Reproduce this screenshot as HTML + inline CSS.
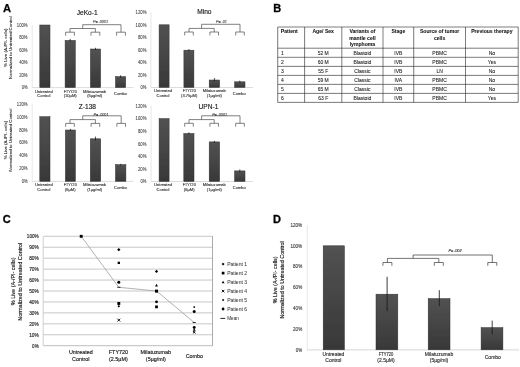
<!DOCTYPE html>
<html><head><meta charset="utf-8"><title>Figure</title>
<style>
html,body{margin:0;padding:0;background:#fff;}
svg{display:block;}
text{font-family:"Liberation Sans", sans-serif;}
</style></head>
<body>
<svg width="520" height="367" viewBox="0 0 520 367">
<defs>
<linearGradient id="bg" x1="0" y1="0" x2="0" y2="1" gradientUnits="objectBoundingBox"><stop offset="0" stop-color="#525252"/><stop offset="1" stop-color="#383838"/></linearGradient>
<filter id="bl" x="0" y="0" width="520" height="367" filterUnits="userSpaceOnUse"><feGaussianBlur stdDeviation="0.3"/></filter>
</defs>
<rect width="520" height="367" fill="#fff"/>
<g fill="#222" filter="url(#bl)">
<text x="27.60" y="89.40" font-size="4.7" text-anchor="end" fill="#444" textLength="5.9" lengthAdjust="spacingAndGlyphs" stroke="#444" stroke-width="0.08">0%</text>
<text x="27.60" y="76.90" font-size="4.7" text-anchor="end" fill="#444" textLength="8.4" lengthAdjust="spacingAndGlyphs" stroke="#444" stroke-width="0.08">20%</text>
<text x="27.60" y="64.40" font-size="4.7" text-anchor="end" fill="#444" textLength="8.4" lengthAdjust="spacingAndGlyphs" stroke="#444" stroke-width="0.08">40%</text>
<text x="27.60" y="51.90" font-size="4.7" text-anchor="end" fill="#444" textLength="8.4" lengthAdjust="spacingAndGlyphs" stroke="#444" stroke-width="0.08">60%</text>
<text x="27.60" y="39.40" font-size="4.7" text-anchor="end" fill="#444" textLength="8.4" lengthAdjust="spacingAndGlyphs" stroke="#444" stroke-width="0.08">80%</text>
<text x="27.60" y="26.90" font-size="4.7" text-anchor="end" fill="#444" textLength="10.8" lengthAdjust="spacingAndGlyphs" stroke="#444" stroke-width="0.08">100%</text>
<line x1="32.20" y1="25.00" x2="32.20" y2="87.50" stroke="#cfcfcf" stroke-width="0.5"/>
<line x1="32.20" y1="87.60" x2="133.50" y2="87.60" stroke="#c4c4c4" stroke-width="0.6"/>
<text x="87.20" y="14.80" font-size="6.6" text-anchor="middle" stroke="#222" stroke-width="0.15">JeKo-1</text>
<rect x="39.80" y="25.00" width="10.20" height="62.50" fill="url(#bg)" stroke="#2e2e2e" stroke-width="0.5"/>
<rect x="65.10" y="40.40" width="10.20" height="47.10" fill="url(#bg)" stroke="#2e2e2e" stroke-width="0.5"/>
<line x1="70.20" y1="38.90" x2="70.20" y2="41.60" stroke="#1a1a1a" stroke-width="0.75"/>
<rect x="90.40" y="49.00" width="10.20" height="38.50" fill="url(#bg)" stroke="#2e2e2e" stroke-width="0.5"/>
<line x1="95.50" y1="47.80" x2="95.50" y2="50.00" stroke="#1a1a1a" stroke-width="0.75"/>
<rect x="115.50" y="76.60" width="10.20" height="10.90" fill="url(#bg)" stroke="#2e2e2e" stroke-width="0.5"/>
<line x1="120.60" y1="75.30" x2="120.60" y2="77.80" stroke="#1a1a1a" stroke-width="0.75"/>
<text x="43.80" y="92.55" font-size="4.05" text-anchor="middle" fill="#3a3a3a" stroke="#3a3a3a" stroke-width="0.14">Untreated</text>
<text x="43.80" y="97.45" font-size="4.05" text-anchor="middle" fill="#3a3a3a" stroke="#3a3a3a" stroke-width="0.14">Control</text>
<text x="70.20" y="92.55" font-size="4.05" text-anchor="middle" fill="#3a3a3a" textLength="13.0" lengthAdjust="spacingAndGlyphs" stroke="#3a3a3a" stroke-width="0.14">FTY720</text>
<text x="70.20" y="97.45" font-size="4.05" text-anchor="middle" fill="#3a3a3a" stroke="#3a3a3a" stroke-width="0.14">(10µM)</text>
<text x="94.60" y="92.55" font-size="4.05" text-anchor="middle" fill="#3a3a3a" stroke="#3a3a3a" stroke-width="0.14">Milatuzumab</text>
<text x="94.60" y="97.45" font-size="4.05" text-anchor="middle" fill="#3a3a3a" stroke="#3a3a3a" stroke-width="0.14">(5µg/ml)</text>
<text x="120.50" y="95.20" font-size="4.05" text-anchor="middle" fill="#3a3a3a" stroke="#3a3a3a" stroke-width="0.14">Combo</text>
<path d="M82.70 28.50V24.70H121.00V32.20M70.00 32.20V28.50H95.40V32.20M65.60 35.70V32.20H74.40V35.70M91.00 35.70V32.20H99.80V35.70M116.60 35.70V32.20H125.40V35.70" stroke="#4a4a4a" stroke-width="0.7" fill="none"/>
<text x="100.50" y="23.20" font-size="3.7" text-anchor="middle" fill="#333" stroke="#333" stroke-width="0.08" font-style="italic">P= .0001</text>
<text x="146.40" y="89.30" font-size="4.7" text-anchor="end" fill="#444" textLength="5.9" lengthAdjust="spacingAndGlyphs" stroke="#444" stroke-width="0.08">0%</text>
<text x="146.40" y="76.78" font-size="4.7" text-anchor="end" fill="#444" textLength="8.4" lengthAdjust="spacingAndGlyphs" stroke="#444" stroke-width="0.08">20%</text>
<text x="146.40" y="64.26" font-size="4.7" text-anchor="end" fill="#444" textLength="8.4" lengthAdjust="spacingAndGlyphs" stroke="#444" stroke-width="0.08">40%</text>
<text x="146.40" y="51.74" font-size="4.7" text-anchor="end" fill="#444" textLength="8.4" lengthAdjust="spacingAndGlyphs" stroke="#444" stroke-width="0.08">60%</text>
<text x="146.40" y="39.22" font-size="4.7" text-anchor="end" fill="#444" textLength="8.4" lengthAdjust="spacingAndGlyphs" stroke="#444" stroke-width="0.08">80%</text>
<text x="146.40" y="26.70" font-size="4.7" text-anchor="end" fill="#444" textLength="10.8" lengthAdjust="spacingAndGlyphs" stroke="#444" stroke-width="0.08">100%</text>
<text x="146.40" y="14.18" font-size="4.7" text-anchor="end" fill="#444" textLength="10.8" lengthAdjust="spacingAndGlyphs" stroke="#444" stroke-width="0.08">120%</text>
<line x1="150.90" y1="12.28" x2="150.90" y2="87.40" stroke="#cfcfcf" stroke-width="0.5"/>
<line x1="150.90" y1="87.50" x2="253.00" y2="87.50" stroke="#c4c4c4" stroke-width="0.6"/>
<text x="204.40" y="14.40" font-size="6.6" text-anchor="middle" stroke="#222" stroke-width="0.15">Mino</text>
<rect x="159.10" y="24.80" width="10.00" height="62.60" fill="url(#bg)" stroke="#2e2e2e" stroke-width="0.5"/>
<rect x="183.90" y="50.20" width="10.00" height="37.20" fill="url(#bg)" stroke="#2e2e2e" stroke-width="0.5"/>
<line x1="188.90" y1="49.00" x2="188.90" y2="51.20" stroke="#1a1a1a" stroke-width="0.75"/>
<rect x="209.20" y="80.00" width="10.40" height="7.40" fill="url(#bg)" stroke="#2e2e2e" stroke-width="0.5"/>
<line x1="214.40" y1="78.00" x2="214.40" y2="81.50" stroke="#1a1a1a" stroke-width="0.75"/>
<rect x="234.60" y="81.80" width="10.40" height="5.60" fill="url(#bg)" stroke="#2e2e2e" stroke-width="0.5"/>
<line x1="239.80" y1="80.70" x2="239.80" y2="82.80" stroke="#1a1a1a" stroke-width="0.75"/>
<text x="163.00" y="92.45" font-size="4.05" text-anchor="middle" fill="#3a3a3a" stroke="#3a3a3a" stroke-width="0.14">Untreated</text>
<text x="163.00" y="97.35" font-size="4.05" text-anchor="middle" fill="#3a3a3a" stroke="#3a3a3a" stroke-width="0.14">Control</text>
<text x="189.20" y="92.45" font-size="4.05" text-anchor="middle" fill="#3a3a3a" textLength="13.0" lengthAdjust="spacingAndGlyphs" stroke="#3a3a3a" stroke-width="0.14">FTY720</text>
<text x="189.20" y="97.35" font-size="4.05" text-anchor="middle" fill="#3a3a3a" stroke="#3a3a3a" stroke-width="0.14">(3.75µM)</text>
<text x="214.30" y="92.45" font-size="4.05" text-anchor="middle" fill="#3a3a3a" stroke="#3a3a3a" stroke-width="0.14">Milatuzumab</text>
<text x="214.30" y="97.35" font-size="4.05" text-anchor="middle" fill="#3a3a3a" stroke="#3a3a3a" stroke-width="0.14">(1µg/ml)</text>
<text x="239.30" y="95.10" font-size="4.05" text-anchor="middle" fill="#3a3a3a" stroke="#3a3a3a" stroke-width="0.14">Combo</text>
<path d="M201.60 28.40V24.30H240.00V32.00M189.00 32.00V28.40H214.20V32.00M184.70 35.40V32.00H193.30V35.40M209.90 35.40V32.00H218.50V35.40M235.70 35.40V32.00H244.30V35.40" stroke="#4a4a4a" stroke-width="0.7" fill="none"/>
<text x="221.50" y="22.70" font-size="3.7" text-anchor="middle" fill="#333" stroke="#333" stroke-width="0.08" font-style="italic">P= .01</text>
<text x="27.60" y="183.20" font-size="4.7" text-anchor="end" fill="#444" textLength="5.9" lengthAdjust="spacingAndGlyphs" stroke="#444" stroke-width="0.08">0%</text>
<text x="27.60" y="170.28" font-size="4.7" text-anchor="end" fill="#444" textLength="8.4" lengthAdjust="spacingAndGlyphs" stroke="#444" stroke-width="0.08">20%</text>
<text x="27.60" y="157.36" font-size="4.7" text-anchor="end" fill="#444" textLength="8.4" lengthAdjust="spacingAndGlyphs" stroke="#444" stroke-width="0.08">40%</text>
<text x="27.60" y="144.44" font-size="4.7" text-anchor="end" fill="#444" textLength="8.4" lengthAdjust="spacingAndGlyphs" stroke="#444" stroke-width="0.08">60%</text>
<text x="27.60" y="131.52" font-size="4.7" text-anchor="end" fill="#444" textLength="8.4" lengthAdjust="spacingAndGlyphs" stroke="#444" stroke-width="0.08">80%</text>
<text x="27.60" y="118.60" font-size="4.7" text-anchor="end" fill="#444" textLength="10.8" lengthAdjust="spacingAndGlyphs" stroke="#444" stroke-width="0.08">100%</text>
<text x="27.60" y="105.68" font-size="4.7" text-anchor="end" fill="#444" textLength="10.8" lengthAdjust="spacingAndGlyphs" stroke="#444" stroke-width="0.08">120%</text>
<line x1="32.20" y1="103.78" x2="32.20" y2="181.30" stroke="#cfcfcf" stroke-width="0.5"/>
<line x1="32.20" y1="181.40" x2="133.50" y2="181.40" stroke="#c4c4c4" stroke-width="0.6"/>
<text x="87.40" y="108.50" font-size="6.6" text-anchor="middle" stroke="#222" stroke-width="0.15">Z-138</text>
<rect x="39.80" y="116.70" width="10.20" height="64.60" fill="url(#bg)" stroke="#2e2e2e" stroke-width="0.5"/>
<rect x="65.40" y="130.00" width="10.00" height="51.30" fill="url(#bg)" stroke="#2e2e2e" stroke-width="0.5"/>
<line x1="70.40" y1="128.90" x2="70.40" y2="131.00" stroke="#1a1a1a" stroke-width="0.75"/>
<rect x="90.30" y="138.80" width="10.40" height="42.50" fill="url(#bg)" stroke="#2e2e2e" stroke-width="0.5"/>
<line x1="95.50" y1="136.60" x2="95.50" y2="140.60" stroke="#1a1a1a" stroke-width="0.75"/>
<rect x="115.50" y="164.60" width="10.40" height="16.70" fill="url(#bg)" stroke="#2e2e2e" stroke-width="0.5"/>
<line x1="120.70" y1="163.80" x2="120.70" y2="165.60" stroke="#1a1a1a" stroke-width="0.75"/>
<text x="43.80" y="186.35" font-size="4.05" text-anchor="middle" fill="#3a3a3a" stroke="#3a3a3a" stroke-width="0.14">Untreated</text>
<text x="43.80" y="191.25" font-size="4.05" text-anchor="middle" fill="#3a3a3a" stroke="#3a3a3a" stroke-width="0.14">Control</text>
<text x="70.20" y="186.35" font-size="4.05" text-anchor="middle" fill="#3a3a3a" textLength="13.0" lengthAdjust="spacingAndGlyphs" stroke="#3a3a3a" stroke-width="0.14">FTY720</text>
<text x="70.20" y="191.25" font-size="4.05" text-anchor="middle" fill="#3a3a3a" stroke="#3a3a3a" stroke-width="0.14">(6µM)</text>
<text x="94.60" y="186.35" font-size="4.05" text-anchor="middle" fill="#3a3a3a" stroke="#3a3a3a" stroke-width="0.14">Milatuzumab</text>
<text x="94.60" y="191.25" font-size="4.05" text-anchor="middle" fill="#3a3a3a" stroke="#3a3a3a" stroke-width="0.14">(1µg/ml)</text>
<text x="120.50" y="189.00" font-size="4.05" text-anchor="middle" fill="#3a3a3a" stroke="#3a3a3a" stroke-width="0.14">Combo</text>
<path d="M82.70 119.60V115.80H121.20V123.40M70.00 123.40V119.60H95.40V123.40M65.70 126.80V123.40H74.30V126.80M91.10 126.80V123.40H99.70V126.80M116.90 126.80V123.40H125.50V126.80" stroke="#4a4a4a" stroke-width="0.7" fill="none"/>
<text x="101.00" y="115.90" font-size="3.7" text-anchor="middle" fill="#333" stroke="#333" stroke-width="0.08" font-style="italic">P= .0001</text>
<text x="146.40" y="183.30" font-size="4.7" text-anchor="end" fill="#444" textLength="5.9" lengthAdjust="spacingAndGlyphs" stroke="#444" stroke-width="0.08">0%</text>
<text x="146.40" y="170.72" font-size="4.7" text-anchor="end" fill="#444" textLength="8.4" lengthAdjust="spacingAndGlyphs" stroke="#444" stroke-width="0.08">20%</text>
<text x="146.40" y="158.14" font-size="4.7" text-anchor="end" fill="#444" textLength="8.4" lengthAdjust="spacingAndGlyphs" stroke="#444" stroke-width="0.08">40%</text>
<text x="146.40" y="145.56" font-size="4.7" text-anchor="end" fill="#444" textLength="8.4" lengthAdjust="spacingAndGlyphs" stroke="#444" stroke-width="0.08">60%</text>
<text x="146.40" y="132.98" font-size="4.7" text-anchor="end" fill="#444" textLength="8.4" lengthAdjust="spacingAndGlyphs" stroke="#444" stroke-width="0.08">80%</text>
<text x="146.40" y="120.40" font-size="4.7" text-anchor="end" fill="#444" textLength="10.8" lengthAdjust="spacingAndGlyphs" stroke="#444" stroke-width="0.08">100%</text>
<text x="146.40" y="107.82" font-size="4.7" text-anchor="end" fill="#444" textLength="10.8" lengthAdjust="spacingAndGlyphs" stroke="#444" stroke-width="0.08">120%</text>
<line x1="151.10" y1="105.92" x2="151.10" y2="181.40" stroke="#cfcfcf" stroke-width="0.5"/>
<line x1="151.10" y1="181.50" x2="253.00" y2="181.50" stroke="#c4c4c4" stroke-width="0.6"/>
<text x="208.50" y="108.50" font-size="6.6" text-anchor="middle" stroke="#222" stroke-width="0.15">UPN-1</text>
<rect x="159.10" y="118.60" width="10.00" height="62.80" fill="url(#bg)" stroke="#2e2e2e" stroke-width="0.5"/>
<rect x="183.80" y="133.50" width="10.20" height="47.90" fill="url(#bg)" stroke="#2e2e2e" stroke-width="0.5"/>
<line x1="188.90" y1="132.30" x2="188.90" y2="134.50" stroke="#1a1a1a" stroke-width="0.75"/>
<rect x="209.20" y="141.90" width="10.40" height="39.50" fill="url(#bg)" stroke="#2e2e2e" stroke-width="0.5"/>
<line x1="214.40" y1="140.90" x2="214.40" y2="142.80" stroke="#1a1a1a" stroke-width="0.75"/>
<rect x="234.60" y="170.90" width="10.40" height="10.50" fill="url(#bg)" stroke="#2e2e2e" stroke-width="0.5"/>
<line x1="239.80" y1="169.40" x2="239.80" y2="172.20" stroke="#1a1a1a" stroke-width="0.75"/>
<text x="163.00" y="186.45" font-size="4.05" text-anchor="middle" fill="#3a3a3a" stroke="#3a3a3a" stroke-width="0.14">Untreated</text>
<text x="163.00" y="191.35" font-size="4.05" text-anchor="middle" fill="#3a3a3a" stroke="#3a3a3a" stroke-width="0.14">Control</text>
<text x="189.20" y="186.45" font-size="4.05" text-anchor="middle" fill="#3a3a3a" textLength="13.0" lengthAdjust="spacingAndGlyphs" stroke="#3a3a3a" stroke-width="0.14">FTY720</text>
<text x="189.20" y="191.35" font-size="4.05" text-anchor="middle" fill="#3a3a3a" stroke="#3a3a3a" stroke-width="0.14">(6µM)</text>
<text x="214.30" y="186.45" font-size="4.05" text-anchor="middle" fill="#3a3a3a" stroke="#3a3a3a" stroke-width="0.14">Milatuzumab</text>
<text x="214.30" y="191.35" font-size="4.05" text-anchor="middle" fill="#3a3a3a" stroke="#3a3a3a" stroke-width="0.14">(1µg/ml)</text>
<text x="239.30" y="189.10" font-size="4.05" text-anchor="middle" fill="#3a3a3a" stroke="#3a3a3a" stroke-width="0.14">Combo</text>
<path d="M201.60 119.60V115.80H240.00V123.30M189.00 123.30V119.60H214.20V123.30M184.70 126.70V123.30H193.30V126.70M209.90 126.70V123.30H218.50V126.70M235.70 126.70V123.30H244.30V126.70" stroke="#4a4a4a" stroke-width="0.7" fill="none"/>
<text x="219.60" y="115.70" font-size="3.7" text-anchor="middle" fill="#333" stroke="#333" stroke-width="0.08" font-style="italic">P= .0001</text>
<text transform="translate(6.90 47.70) rotate(-90)" font-size="4.4" text-anchor="middle" fill="#2e2e2e" stroke="#2e2e2e" stroke-width="0.12">% Live (A-/PI- cells)</text>
<text transform="translate(11.50 47.70) rotate(-90)" font-size="4.4" text-anchor="middle" fill="#2e2e2e" stroke="#2e2e2e" stroke-width="0.12">Normalized to Untreated Control</text>
<text transform="translate(7.20 140.10) rotate(-90)" font-size="4.4" text-anchor="middle" fill="#2e2e2e" stroke="#2e2e2e" stroke-width="0.12">% Live (A-/PI- cells)</text>
<text transform="translate(11.60 140.10) rotate(-90)" font-size="4.4" text-anchor="middle" fill="#2e2e2e" stroke="#2e2e2e" stroke-width="0.12">Normalized to Untreated Control</text>
<text x="3.00" y="12.00" font-size="11.2" text-anchor="start" font-weight="bold" fill="#000" stroke="#000" stroke-width="0.25">A</text>
<text x="273.30" y="12.10" font-size="11.0" text-anchor="start" font-weight="bold" fill="#000" stroke="#000" stroke-width="0.3">B</text>
<text x="2.80" y="222.50" font-size="11.0" text-anchor="start" font-weight="bold" fill="#000" stroke="#000" stroke-width="0.3">C</text>
<text x="273.10" y="223.00" font-size="11.0" text-anchor="start" font-weight="bold" fill="#000" stroke="#000" stroke-width="0.3">D</text>
<path d="M277.7 27.0V102.4M304.6 27.0V102.4M341.8 27.0V102.4M383.0 27.0V102.4M413.7 27.0V102.4M465.5 27.0V102.4M518.2 27.0V102.4M277.7 27.0H518.2M277.7 48.2H518.2M277.7 57.3H518.2M277.7 66.4H518.2M277.7 75.4H518.2M277.7 84.4H518.2M277.7 93.4H518.2M277.7 102.4H518.2" stroke="#2a2a2a" stroke-width="0.62" fill="none"/>
<text x="280.80" y="33.30" font-size="5.1" text-anchor="start" font-weight="bold" fill="#111" stroke="#111" stroke-width="0.05">Patient</text>
<text x="323.20" y="33.30" font-size="5.1" text-anchor="middle" font-weight="bold" fill="#111" stroke="#111" stroke-width="0.05">Age/ Sex</text>
<text x="362.40" y="33.30" font-size="5.1" text-anchor="middle" font-weight="bold" fill="#111" stroke="#111" stroke-width="0.05">Variants of</text>
<text x="362.40" y="39.60" font-size="5.1" text-anchor="middle" font-weight="bold" fill="#111" stroke="#111" stroke-width="0.05">mantle cell</text>
<text x="362.40" y="45.90" font-size="5.1" text-anchor="middle" font-weight="bold" fill="#111" stroke="#111" stroke-width="0.05">lymphoma</text>
<text x="398.35" y="33.30" font-size="5.1" text-anchor="middle" font-weight="bold" fill="#111" stroke="#111" stroke-width="0.05">Stage</text>
<text x="439.60" y="33.30" font-size="5.1" text-anchor="middle" font-weight="bold" fill="#111" stroke="#111" stroke-width="0.05">Source of tumor</text>
<text x="439.60" y="39.60" font-size="5.1" text-anchor="middle" font-weight="bold" fill="#111" stroke="#111" stroke-width="0.05">cells</text>
<text x="491.85" y="33.30" font-size="5.1" text-anchor="middle" font-weight="bold" fill="#111" stroke="#111" stroke-width="0.05">Previous therapy</text>
<text x="280.90" y="54.55" font-size="5.0" text-anchor="start" stroke="#222" stroke-width="0.08">1</text>
<text x="323.20" y="54.55" font-size="5.0" text-anchor="middle" stroke="#222" stroke-width="0.08">52 M</text>
<text x="362.40" y="54.55" font-size="5.0" text-anchor="middle" stroke="#222" stroke-width="0.08">Blastoid</text>
<text x="398.35" y="54.55" font-size="5.0" text-anchor="middle" stroke="#222" stroke-width="0.08">IVB</text>
<text x="439.60" y="54.55" font-size="5.0" text-anchor="middle" stroke="#222" stroke-width="0.08">PBMC</text>
<text x="491.85" y="54.55" font-size="5.0" text-anchor="middle" stroke="#222" stroke-width="0.08">No</text>
<text x="280.90" y="63.65" font-size="5.0" text-anchor="start" stroke="#222" stroke-width="0.08">2</text>
<text x="323.20" y="63.65" font-size="5.0" text-anchor="middle" stroke="#222" stroke-width="0.08">60 M</text>
<text x="362.40" y="63.65" font-size="5.0" text-anchor="middle" stroke="#222" stroke-width="0.08">Blastoid</text>
<text x="398.35" y="63.65" font-size="5.0" text-anchor="middle" stroke="#222" stroke-width="0.08">IVB</text>
<text x="439.60" y="63.65" font-size="5.0" text-anchor="middle" stroke="#222" stroke-width="0.08">PBMC</text>
<text x="491.85" y="63.65" font-size="5.0" text-anchor="middle" stroke="#222" stroke-width="0.08">Yes</text>
<text x="280.90" y="72.70" font-size="5.0" text-anchor="start" stroke="#222" stroke-width="0.08">3</text>
<text x="323.20" y="72.70" font-size="5.0" text-anchor="middle" stroke="#222" stroke-width="0.08">55 F</text>
<text x="362.40" y="72.70" font-size="5.0" text-anchor="middle" stroke="#222" stroke-width="0.08">Classic</text>
<text x="398.35" y="72.70" font-size="5.0" text-anchor="middle" stroke="#222" stroke-width="0.08">IVB</text>
<text x="439.60" y="72.70" font-size="5.0" text-anchor="middle" stroke="#222" stroke-width="0.08">LN</text>
<text x="491.85" y="72.70" font-size="5.0" text-anchor="middle" stroke="#222" stroke-width="0.08">No</text>
<text x="280.90" y="81.70" font-size="5.0" text-anchor="start" stroke="#222" stroke-width="0.08">4</text>
<text x="323.20" y="81.70" font-size="5.0" text-anchor="middle" stroke="#222" stroke-width="0.08">59 M</text>
<text x="362.40" y="81.70" font-size="5.0" text-anchor="middle" stroke="#222" stroke-width="0.08">Classic</text>
<text x="398.35" y="81.70" font-size="5.0" text-anchor="middle" stroke="#222" stroke-width="0.08">IVA</text>
<text x="439.60" y="81.70" font-size="5.0" text-anchor="middle" stroke="#222" stroke-width="0.08">PBMC</text>
<text x="491.85" y="81.70" font-size="5.0" text-anchor="middle" stroke="#222" stroke-width="0.08">No</text>
<text x="280.90" y="90.70" font-size="5.0" text-anchor="start" stroke="#222" stroke-width="0.08">5</text>
<text x="323.20" y="90.70" font-size="5.0" text-anchor="middle" stroke="#222" stroke-width="0.08">65 M</text>
<text x="362.40" y="90.70" font-size="5.0" text-anchor="middle" stroke="#222" stroke-width="0.08">Classic</text>
<text x="398.35" y="90.70" font-size="5.0" text-anchor="middle" stroke="#222" stroke-width="0.08">IVB</text>
<text x="439.60" y="90.70" font-size="5.0" text-anchor="middle" stroke="#222" stroke-width="0.08">PBMC</text>
<text x="491.85" y="90.70" font-size="5.0" text-anchor="middle" stroke="#222" stroke-width="0.08">No</text>
<text x="280.90" y="99.70" font-size="5.0" text-anchor="start" stroke="#222" stroke-width="0.08">6</text>
<text x="323.20" y="99.70" font-size="5.0" text-anchor="middle" stroke="#222" stroke-width="0.08">63 F</text>
<text x="362.40" y="99.70" font-size="5.0" text-anchor="middle" stroke="#222" stroke-width="0.08">Blastoid</text>
<text x="398.35" y="99.70" font-size="5.0" text-anchor="middle" stroke="#222" stroke-width="0.08">IVB</text>
<text x="439.60" y="99.70" font-size="5.0" text-anchor="middle" stroke="#222" stroke-width="0.08">PBMC</text>
<text x="491.85" y="99.70" font-size="5.0" text-anchor="middle" stroke="#222" stroke-width="0.08">Yes</text>
<line x1="43.40" y1="345.70" x2="212.70" y2="345.70" stroke="#a0a0a0" stroke-width="0.7"/>
<text x="38.70" y="347.60" font-size="5.3" text-anchor="end" fill="#1a1a1a" textLength="6.6" lengthAdjust="spacingAndGlyphs" stroke="#1a1a1a" stroke-width="0.15">0%</text>
<line x1="43.40" y1="334.76" x2="212.70" y2="334.76" stroke="#b0b0b0" stroke-width="0.7"/>
<text x="38.70" y="336.66" font-size="5.3" text-anchor="end" fill="#1a1a1a" textLength="9.5" lengthAdjust="spacingAndGlyphs" stroke="#1a1a1a" stroke-width="0.15">10%</text>
<line x1="43.40" y1="323.82" x2="212.70" y2="323.82" stroke="#b0b0b0" stroke-width="0.7"/>
<text x="38.70" y="325.72" font-size="5.3" text-anchor="end" fill="#1a1a1a" textLength="9.5" lengthAdjust="spacingAndGlyphs" stroke="#1a1a1a" stroke-width="0.15">20%</text>
<line x1="43.40" y1="312.88" x2="212.70" y2="312.88" stroke="#b0b0b0" stroke-width="0.7"/>
<text x="38.70" y="314.78" font-size="5.3" text-anchor="end" fill="#1a1a1a" textLength="9.5" lengthAdjust="spacingAndGlyphs" stroke="#1a1a1a" stroke-width="0.15">30%</text>
<line x1="43.40" y1="301.94" x2="212.70" y2="301.94" stroke="#b0b0b0" stroke-width="0.7"/>
<text x="38.70" y="303.84" font-size="5.3" text-anchor="end" fill="#1a1a1a" textLength="9.5" lengthAdjust="spacingAndGlyphs" stroke="#1a1a1a" stroke-width="0.15">40%</text>
<line x1="43.40" y1="291.00" x2="212.70" y2="291.00" stroke="#b0b0b0" stroke-width="0.7"/>
<text x="38.70" y="292.90" font-size="5.3" text-anchor="end" fill="#1a1a1a" textLength="9.5" lengthAdjust="spacingAndGlyphs" stroke="#1a1a1a" stroke-width="0.15">50%</text>
<line x1="43.40" y1="280.06" x2="212.70" y2="280.06" stroke="#b0b0b0" stroke-width="0.7"/>
<text x="38.70" y="281.96" font-size="5.3" text-anchor="end" fill="#1a1a1a" textLength="9.5" lengthAdjust="spacingAndGlyphs" stroke="#1a1a1a" stroke-width="0.15">60%</text>
<line x1="43.40" y1="269.12" x2="212.70" y2="269.12" stroke="#b0b0b0" stroke-width="0.7"/>
<text x="38.70" y="271.02" font-size="5.3" text-anchor="end" fill="#1a1a1a" textLength="9.5" lengthAdjust="spacingAndGlyphs" stroke="#1a1a1a" stroke-width="0.15">70%</text>
<line x1="43.40" y1="258.18" x2="212.70" y2="258.18" stroke="#b0b0b0" stroke-width="0.7"/>
<text x="38.70" y="260.08" font-size="5.3" text-anchor="end" fill="#1a1a1a" textLength="9.5" lengthAdjust="spacingAndGlyphs" stroke="#1a1a1a" stroke-width="0.15">80%</text>
<line x1="43.40" y1="247.24" x2="212.70" y2="247.24" stroke="#b0b0b0" stroke-width="0.7"/>
<text x="38.70" y="249.14" font-size="5.3" text-anchor="end" fill="#1a1a1a" textLength="9.5" lengthAdjust="spacingAndGlyphs" stroke="#1a1a1a" stroke-width="0.15">90%</text>
<line x1="43.40" y1="236.30" x2="212.70" y2="236.30" stroke="#b0b0b0" stroke-width="0.7"/>
<text x="38.70" y="238.20" font-size="5.3" text-anchor="end" fill="#1a1a1a" textLength="11.9" lengthAdjust="spacingAndGlyphs" stroke="#1a1a1a" stroke-width="0.15">100%</text>
<line x1="43.20" y1="236.30" x2="43.20" y2="345.70" stroke="#b0b0b0" stroke-width="0.6"/>
<line x1="212.50" y1="236.30" x2="212.50" y2="345.70" stroke="#969696" stroke-width="0.8"/>
<text transform="translate(15.40 281.30) rotate(-90)" font-size="5.45" text-anchor="middle" fill="#1a1a1a" stroke="#1a1a1a" stroke-width="0.15">% Live (A-/PI- cells)</text>
<text transform="translate(22.10 281.70) rotate(-90)" font-size="5.45" text-anchor="middle" fill="#1a1a1a" stroke="#1a1a1a" stroke-width="0.15">Normalized to Untreated Control</text>
<text x="80.80" y="354.10" font-size="5.4" text-anchor="middle" fill="#1a1a1a" stroke="#1a1a1a" stroke-width="0.15">Untreated</text>
<text x="80.80" y="361.00" font-size="5.4" text-anchor="middle" fill="#1a1a1a" stroke="#1a1a1a" stroke-width="0.15">Control</text>
<text x="118.40" y="354.10" font-size="5.4" text-anchor="middle" fill="#1a1a1a" stroke="#1a1a1a" stroke-width="0.15">FTY720</text>
<text x="118.40" y="361.00" font-size="5.4" text-anchor="middle" fill="#1a1a1a" stroke="#1a1a1a" stroke-width="0.15">(2.5µM)</text>
<text x="155.80" y="354.10" font-size="5.4" text-anchor="middle" fill="#1a1a1a" stroke="#1a1a1a" stroke-width="0.15">Milatuzumab</text>
<text x="155.80" y="361.00" font-size="5.4" text-anchor="middle" fill="#1a1a1a" stroke="#1a1a1a" stroke-width="0.15">(5µg/ml)</text>
<text x="194.40" y="357.70" font-size="5.4" text-anchor="middle" fill="#1a1a1a" stroke="#1a1a1a" stroke-width="0.15">Combo</text>
<polyline points="81.2,236.3 118.8,287.3 156.5,291.0 194.2,322.5" fill="none" stroke="#989898" stroke-width="0.75"/>
<rect x="79.75" y="234.85" width="2.90" height="2.90" fill="#000"/>
<path d="M118.80 248.00L120.45 249.65L118.80 251.30L117.15 249.65Z" fill="#000"/>
<rect x="117.65" y="261.73" width="2.30" height="2.30" fill="#000"/>
<circle cx="118.80" cy="282.25" r="1.5" fill="#000"/>
<rect x="117.35" y="302.02" width="2.90" height="2.90" fill="#000"/>
<path d="M118.80 305.07L120.05 306.32L118.80 307.57L117.55 306.32Z" fill="#000"/>
<path d="M117.40 318.70L120.20 321.50M117.40 321.50L120.20 318.70" stroke="#000" stroke-width="0.95" fill="none"/>
<path d="M117.20 287.28H120.40" stroke="#000" stroke-width="0.85"/>
<path d="M156.50 269.87L158.05 271.42L156.50 272.97L154.95 271.42Z" fill="#000"/>
<path d="M156.50 283.86L157.95 286.47H155.05Z" fill="#000"/>
<rect x="155.00" y="289.61" width="3.00" height="3.00" fill="#000"/>
<circle cx="156.50" cy="301.83" r="1.45" fill="#000"/>
<rect x="155.10" y="305.46" width="2.80" height="2.80" fill="#000"/>
<path d="M154.90 291.00H158.10" stroke="#000" stroke-width="0.85"/>
<path d="M194.20 305.98L195.30 307.08L194.20 308.18L193.10 307.08Z" fill="#000"/>
<circle cx="194.20" cy="311.46" r="1.5" fill="#000"/>
<path d="M192.70 322.51H195.70" stroke="#000" stroke-width="0.85"/>
<circle cx="194.20" cy="327.43" r="1.45" fill="#000"/>
<path d="M194.20 328.86L195.40 330.06L194.20 331.26L193.00 330.06Z" fill="#000"/>
<path d="M192.90 330.83L195.50 333.43M192.90 333.43L195.50 330.83" stroke="#000" stroke-width="0.95" fill="none"/>
<path d="M223.10 262.65L224.55 264.10L223.10 265.55L221.65 264.10Z" fill="#000"/>
<rect x="221.75" y="271.75" width="2.70" height="2.70" fill="#000"/>
<path d="M223.10 280.70L224.50 283.22H221.70Z" fill="#000"/>
<path d="M221.85 289.85L224.35 292.35M221.85 292.35L224.35 289.85" stroke="#000" stroke-width="0.95" fill="none"/>
<path d="M223.10 298.80L224.30 300.00L223.10 301.20L221.90 300.00Z" fill="#000"/>
<circle cx="223.10" cy="309.00" r="1.4" fill="#000"/>
<path d="M220.40 318.40H225.20" stroke="#000" stroke-width="0.85"/>
<text x="227.20" y="265.95" font-size="5.5" text-anchor="start" fill="#3a3a3a" textLength="19.9" lengthAdjust="spacingAndGlyphs" stroke="#3a3a3a" stroke-width="0.05">Patient 1</text>
<text x="227.20" y="274.95" font-size="5.5" text-anchor="start" fill="#3a3a3a" textLength="19.9" lengthAdjust="spacingAndGlyphs" stroke="#3a3a3a" stroke-width="0.05">Patient 2</text>
<text x="227.20" y="283.95" font-size="5.5" text-anchor="start" fill="#3a3a3a" textLength="19.9" lengthAdjust="spacingAndGlyphs" stroke="#3a3a3a" stroke-width="0.05">Patient 3</text>
<text x="227.20" y="292.95" font-size="5.5" text-anchor="start" fill="#3a3a3a" textLength="19.9" lengthAdjust="spacingAndGlyphs" stroke="#3a3a3a" stroke-width="0.05">Patient 4</text>
<text x="227.20" y="301.85" font-size="5.5" text-anchor="start" fill="#3a3a3a" textLength="19.9" lengthAdjust="spacingAndGlyphs" stroke="#3a3a3a" stroke-width="0.05">Patient 5</text>
<text x="227.20" y="310.85" font-size="5.5" text-anchor="start" fill="#3a3a3a" textLength="19.9" lengthAdjust="spacingAndGlyphs" stroke="#3a3a3a" stroke-width="0.05">Patient 6</text>
<text x="227.20" y="319.85" font-size="5.5" text-anchor="start" fill="#3a3a3a" textLength="11.8" lengthAdjust="spacingAndGlyphs" stroke="#3a3a3a" stroke-width="0.05">Mean</text>
<text x="302.20" y="351.50" font-size="5.0" text-anchor="end" fill="#333" textLength="6.4" lengthAdjust="spacingAndGlyphs" stroke="#333" stroke-width="0.1">0%</text>
<text x="302.20" y="330.74" font-size="5.0" text-anchor="end" fill="#333" textLength="9.1" lengthAdjust="spacingAndGlyphs" stroke="#333" stroke-width="0.1">20%</text>
<text x="302.20" y="309.98" font-size="5.0" text-anchor="end" fill="#333" textLength="9.1" lengthAdjust="spacingAndGlyphs" stroke="#333" stroke-width="0.1">40%</text>
<text x="302.20" y="289.22" font-size="5.0" text-anchor="end" fill="#333" textLength="9.1" lengthAdjust="spacingAndGlyphs" stroke="#333" stroke-width="0.1">60%</text>
<text x="302.20" y="268.46" font-size="5.0" text-anchor="end" fill="#333" textLength="9.1" lengthAdjust="spacingAndGlyphs" stroke="#333" stroke-width="0.1">80%</text>
<text x="302.20" y="247.70" font-size="5.0" text-anchor="end" fill="#333" textLength="11.8" lengthAdjust="spacingAndGlyphs" stroke="#333" stroke-width="0.1">100%</text>
<text x="302.20" y="226.94" font-size="5.0" text-anchor="end" fill="#333" textLength="11.8" lengthAdjust="spacingAndGlyphs" stroke="#333" stroke-width="0.1">120%</text>
<line x1="307.30" y1="225.24" x2="307.30" y2="349.80" stroke="#cfcfcf" stroke-width="0.5"/>
<line x1="307.30" y1="349.90" x2="519.00" y2="349.90" stroke="#c4c4c4" stroke-width="0.7"/>
<rect x="323.20" y="245.80" width="21.20" height="104.00" fill="url(#bg)" stroke="#2e2e2e" stroke-width="0.5"/>
<rect x="376.00" y="294.20" width="21.80" height="55.60" fill="url(#bg)" stroke="#2e2e2e" stroke-width="0.5"/>
<line x1="387.10" y1="276.80" x2="387.10" y2="311.20" stroke="#1a1a1a" stroke-width="0.85"/>
<rect x="428.20" y="298.60" width="21.80" height="51.20" fill="url(#bg)" stroke="#2e2e2e" stroke-width="0.5"/>
<line x1="439.30" y1="290.20" x2="439.30" y2="306.20" stroke="#1a1a1a" stroke-width="0.85"/>
<rect x="481.10" y="327.60" width="21.80" height="22.20" fill="url(#bg)" stroke="#2e2e2e" stroke-width="0.5"/>
<line x1="492.20" y1="320.70" x2="492.20" y2="334.40" stroke="#1a1a1a" stroke-width="0.85"/>
<text x="333.40" y="355.60" font-size="5.0" text-anchor="middle" fill="#333" stroke="#333" stroke-width="0.15">Untreated</text>
<text x="333.40" y="361.80" font-size="5.0" text-anchor="middle" fill="#333" stroke="#333" stroke-width="0.15">Control</text>
<text x="386.00" y="355.60" font-size="5.0" text-anchor="middle" fill="#333" textLength="14.5" lengthAdjust="spacingAndGlyphs" stroke="#333" stroke-width="0.15">FTY720</text>
<text x="386.00" y="361.80" font-size="5.0" text-anchor="middle" fill="#333" stroke="#333" stroke-width="0.15">(2.5µM)</text>
<text x="439.00" y="355.60" font-size="5.0" text-anchor="middle" fill="#333" stroke="#333" stroke-width="0.15">Milatuzumab</text>
<text x="439.00" y="361.80" font-size="5.0" text-anchor="middle" fill="#333" stroke="#333" stroke-width="0.15">(5µg/ml)</text>
<text x="492.80" y="359.10" font-size="5.0" text-anchor="middle" fill="#333" stroke="#333" stroke-width="0.15">Combo</text>
<path d="M413.10 258.40V255.00H492.30V262.50M387.40 262.50V258.40H438.80V262.50M382.90 265.80V262.50H391.90V265.80M434.30 265.80V262.50H443.30V265.80M487.80 265.80V262.50H496.80V265.80" stroke="#444" stroke-width="0.75" fill="none"/>
<text x="455.00" y="251.60" font-size="3.8" text-anchor="middle" fill="#333" stroke="#333" stroke-width="0.15" font-style="italic">P= .002</text>
<text transform="translate(277.40 279.90) rotate(-90)" font-size="5.35" text-anchor="middle" fill="#1a1a1a" stroke="#1a1a1a" stroke-width="0.15">% Live (A-/PI- cells)</text>
<text transform="translate(283.80 279.90) rotate(-90)" font-size="5.4" text-anchor="middle" fill="#1a1a1a" stroke="#1a1a1a" stroke-width="0.15">Normalized to Untreated Control</text>
</g>
</svg>
</body></html>
